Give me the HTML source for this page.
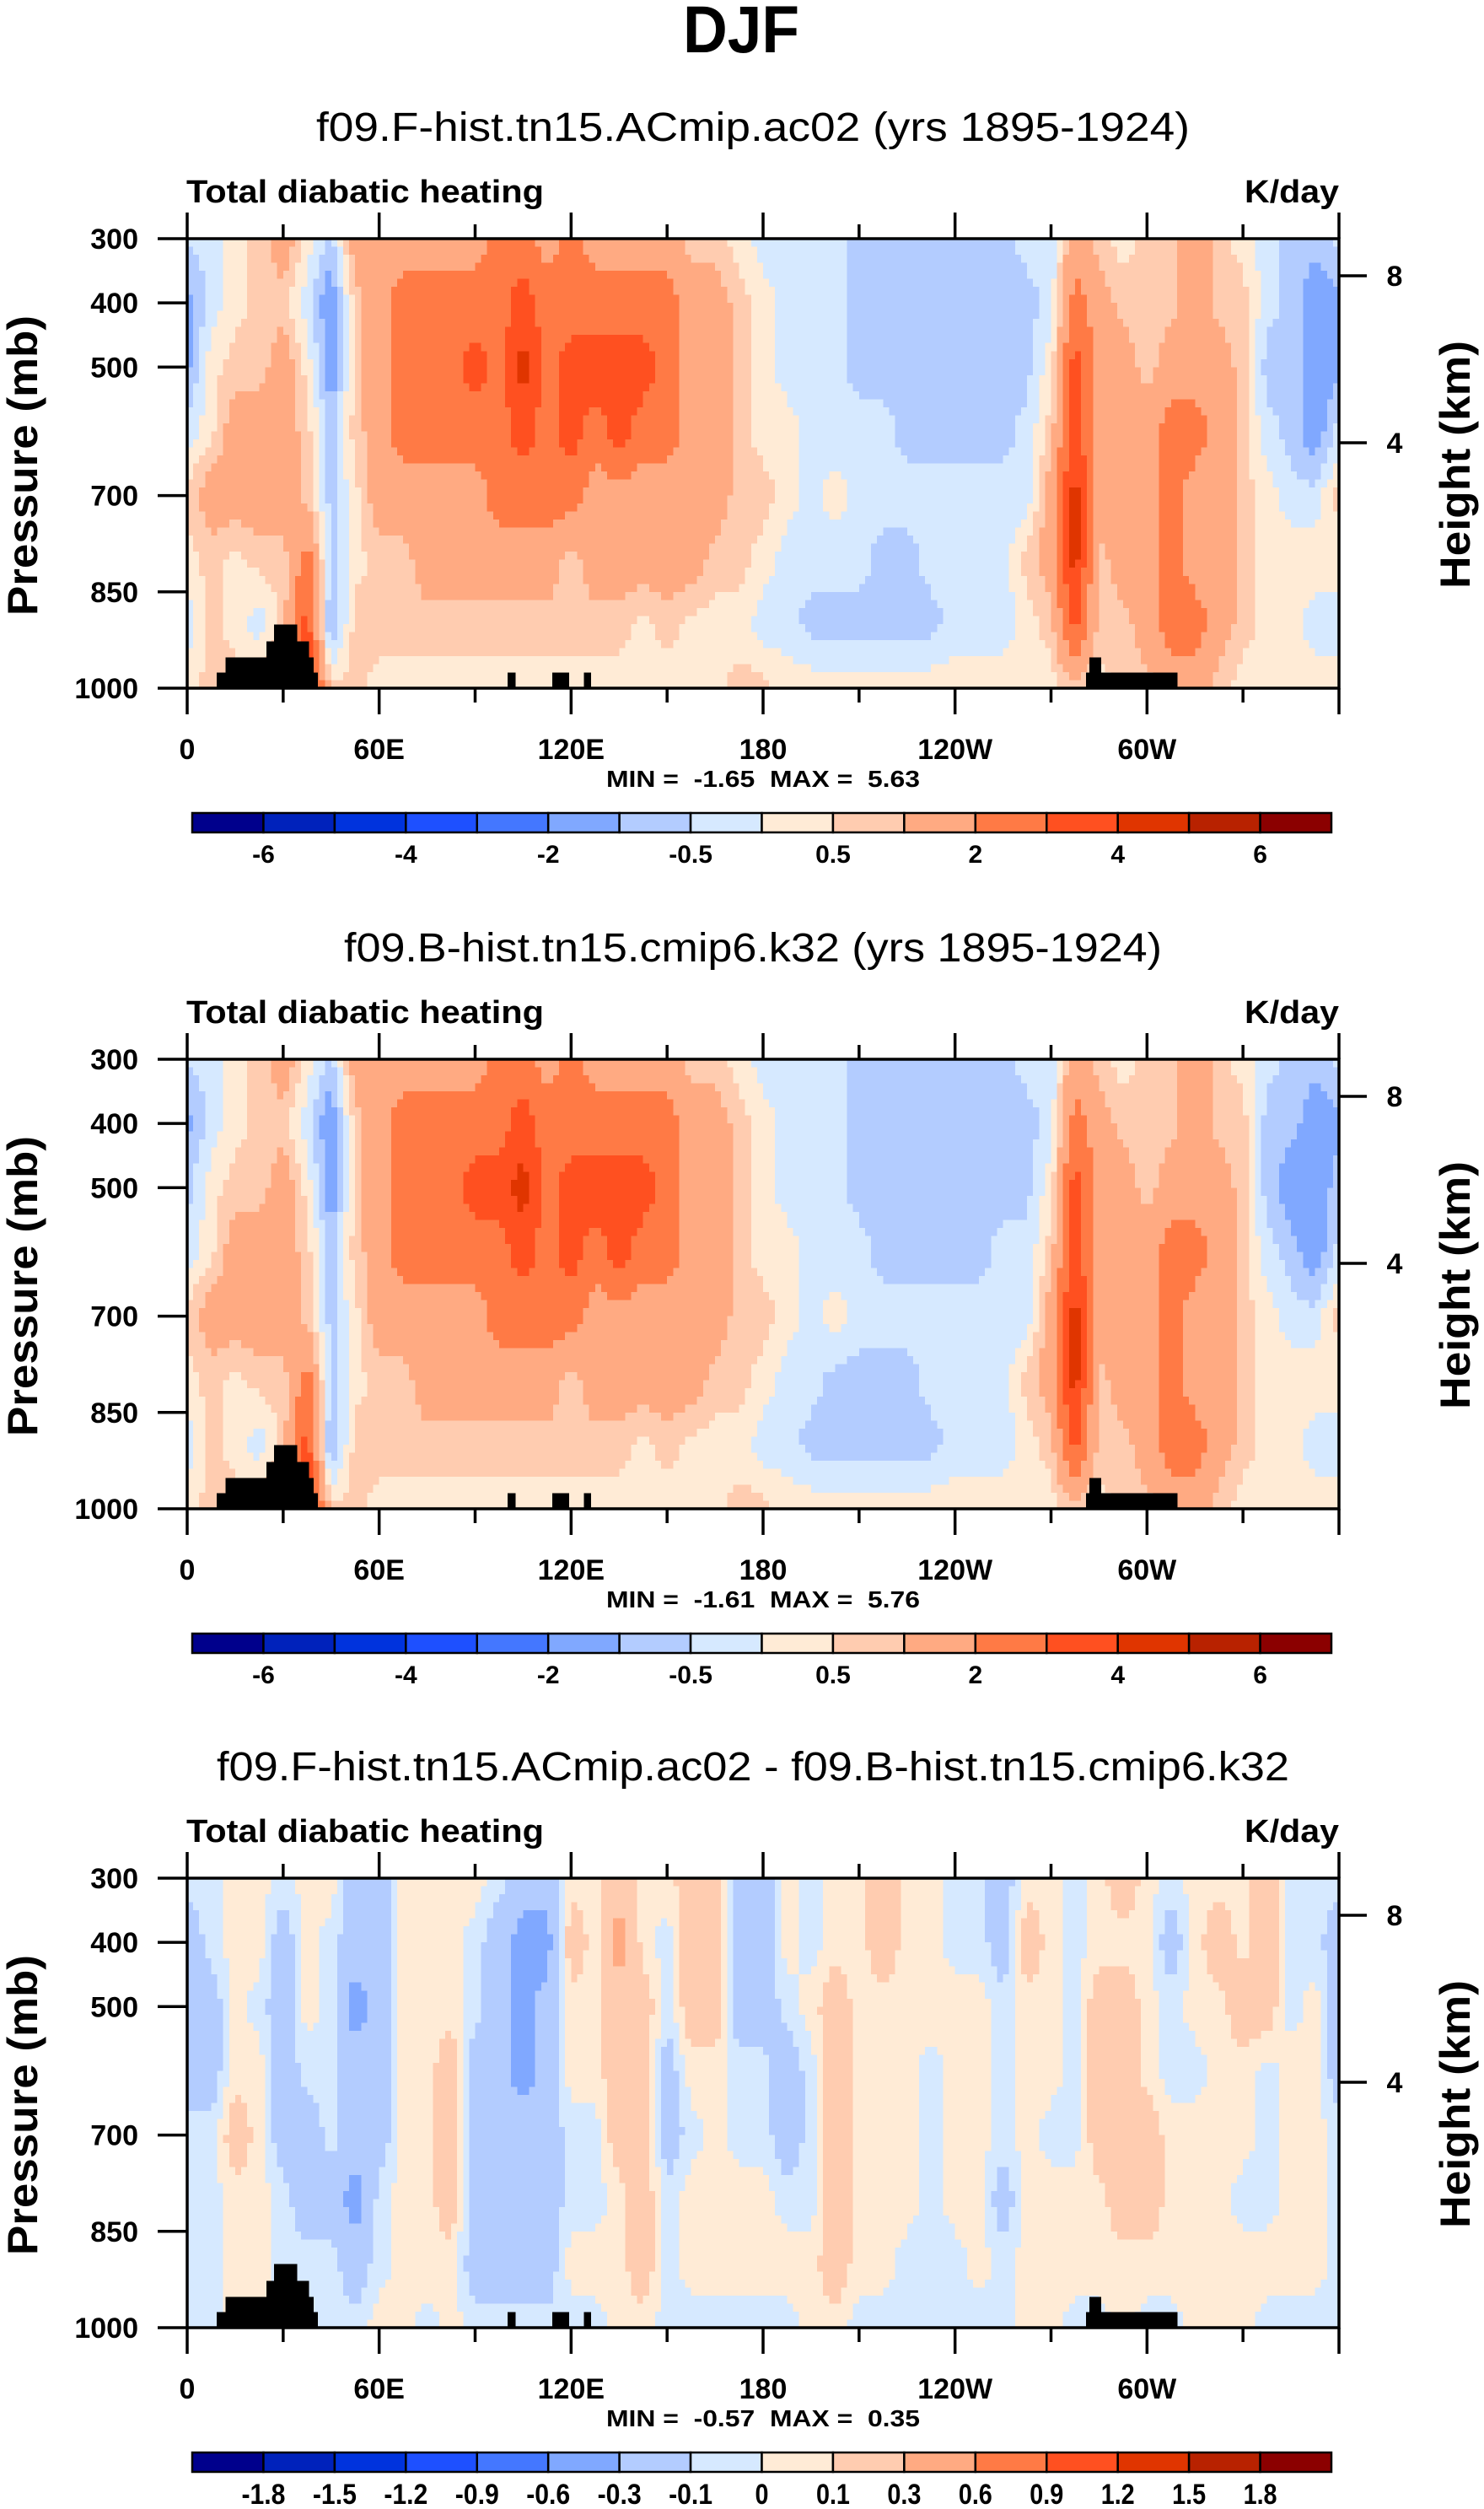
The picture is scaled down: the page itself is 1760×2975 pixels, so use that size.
<!DOCTYPE html>
<html><head><meta charset="utf-8"><style>
html,body{margin:0;padding:0;background:#fff;}
svg{display:block;font-family:"Liberation Sans",sans-serif;}
</style></head><body>
<svg id="fig" width="1760" height="2975" viewBox="0 0 1760 2975" xmlns="http://www.w3.org/2000/svg">
<text x="879" y="62" font-size="79" font-weight="bold" text-anchor="middle" textLength="138" lengthAdjust="spacingAndGlyphs">DJF</text>
</svg>
<script>
// ---- data ----
const levels = [300,400,500,600,700,800,900,1000];
const lons = [0,7.5,15,22.5,30,37.5,45,52.5,60,67.5,75,82.5,90,97.5,105,112.5,120,127.5,135,142.5,150,157.5,165,172.5,180,187.5,195,202.5,210,217.5,225,232.5,240,247.5,255,262.5,270,277.5,285,292.5,300,307.5,315,322.5,330,337.5,345,352.5];
const lonTickLabels = ["0","60E","120E","180","120W","60W"];
const pressureTicks = [300,400,500,700,850,1000];
const heightTicks = [8,4];
const contourLevelsAbs = [-6,-5,-4,-3,-2,-1,-0.5,0,0.5,1,2,3,4,5,6];
const cbarLabelsAbs = ["","-6","","-4","","-2","","-0.5","","0.5","","2","","4","","6"];
const contourLevelsDiff = [-1.8,-1.5,-1.2,-0.9,-0.6,-0.3,-0.1,0,0.1,0.3,0.6,0.9,1.2,1.5,1.8];
const cbarLabelsDiff = ["","-1.8","-1.5","-1.2","-0.9","-0.6","-0.3","-0.1","0","0.1","0.3","0.6","0.9","1.2","1.5","1.8"];
const palette = ["#00008c","#0022bb","#0033dd","#1e50ff","#4477ff","#80a8ff","#b3ccff","#d6e9ff","#ffebd6","#ffccb0","#ffaa82","#ff7a45","#ff5020","#e03500","#b82200","#8b0000"];
// columns (per longitude), values at levels 300..1000
const heatA = [
[-0.4,-1.2,-1.2,-0.3,0.7,0.3,-0.3,0.3],[-0.3,-0.3,0.3,0.3,1.5,0.7,0.7,0.7],[0.3,0.3,0.7,1.5,1.5,0.3,0.3,0.7],[0.7,0.7,0.7,1.5,1.5,0.7,-0.3,0.7],
[1.5,0.7,1.5,1.5,1.5,0.7,0.7,1.5],[0.3,-0.3,0.3,0.7,0.7,2.5,3.5,4.5],[-0.7,-1.5,-1.5,-0.7,-0.7,-0.7,-1.2,0.7],[1.5,0.7,0.7,0.7,0.3,0.3,0.7,0.7],
[1.5,1.5,1.5,1.5,1.5,0.7,0.7,0.3],[1.5,2.5,2.5,2.5,1.5,0.7,0.7,0.3],[1.5,2.5,2.5,2.5,1.5,1.5,0.7,0.3],[1.5,2.5,2.5,2.5,1.5,1.5,0.7,0.3],
[1.5,2.5,3.5,2.5,1.5,1.5,0.7,0.3],[2.5,2.5,2.5,2.5,2.5,1.5,0.7,0.3],[2.5,3.5,4.5,3.5,2.5,1.5,0.7,0.3],[1.5,2.5,2.5,2.5,2.5,1.5,0.7,0.3],
[2.5,2.5,3.5,3.5,2.5,0.7,0.7,0.3],[1.5,2.5,3.5,2.5,1.5,1.5,0.7,0.3],[1.5,2.5,3.5,3.5,1.5,1.5,0.7,0.3],[1.5,2.5,3.5,2.5,1.5,1.5,0.3,0.3],
[1.5,2.5,2.5,2.5,1.5,1.5,0.7,0.3],[0.7,1.5,1.5,1.5,1.5,1.5,0.3,0.3],[0.7,1.5,1.5,1.5,1.5,0.7,0.3,0.3],[0.3,0.7,0.7,0.7,0.7,0.7,0.3,0.7],
[-0.3,0.3,0.3,0.3,0.7,0.3,-0.3,0.7],[-0.3,-0.3,-0.3,0.3,0.3,-0.3,-0.3,0.3],[-0.3,-0.3,-0.3,-0.3,-0.3,-0.3,-0.7,0.3],[-0.3,-0.3,-0.3,-0.3,0.3,-0.3,-0.7,0.3],
[-0.7,-0.7,-0.7,-0.3,-0.3,-0.3,-0.7,0.3],[-0.7,-0.7,-0.7,-0.3,-0.3,-0.7,-0.7,0.3],[-0.7,-0.7,-0.7,-0.7,-0.3,-0.7,-0.7,0.3],[-0.7,-0.7,-0.7,-0.7,-0.3,-0.3,-0.7,0.3],
[-0.7,-0.7,-0.7,-0.7,-0.3,-0.3,-0.3,0.3],[-0.7,-0.7,-0.7,-0.7,-0.3,-0.3,-0.3,0.3],[-0.7,-0.7,-0.7,-0.7,-0.3,-0.3,-0.3,0.3],[-0.3,-0.7,-0.7,-0.3,-0.3,0.7,0.3,0.3],
[-0.3,-0.3,0.3,0.7,1.5,1.5,0.7,0.3],[1.5,2.5,3.5,3.5,4.5,4.5,3.5,0.7],[0.7,1.5,1.5,1.5,1.5,0.7,0.7,0.3],[0.3,0.7,1.5,1.5,1.5,1.5,0.7,0.7],
[0.7,0.7,0.7,1.5,1.5,1.5,1.5,0.7],[0.7,0.7,1.5,2.5,2.5,2.5,2.5,1.5],[1.5,1.5,1.5,2.5,1.5,1.5,2.5,1.5],[0.7,0.7,1.5,1.5,1.5,1.5,1.5,0.7],
[0.3,0.7,0.7,0.7,0.7,0.7,0.7,0.3],[-0.3,-0.3,-0.7,-0.3,0.3,0.3,0.3,0.3],[-0.7,-0.7,-0.7,-0.7,-0.3,0.3,0.3,0.3],[-0.7,-1.5,-1.5,-1.5,-0.3,0.3,-0.3,0.3]];
const heatB = [
[-0.4,-1.2,-0.7,-0.3,0.7,0.3,-0.3,0.3],[-0.3,-0.3,0.3,0.3,1.5,0.7,0.7,0.7],[0.3,0.3,0.7,1.5,1.5,0.3,0.3,0.7],[0.7,0.7,0.7,1.5,1.5,0.7,-0.3,0.7],
[1.5,0.7,1.5,1.5,1.5,0.7,0.7,1.5],[0.3,-0.3,0.3,0.7,0.7,2.5,3.5,4.5],[-0.7,-1.5,-1.5,-0.7,-0.7,-0.7,-1.2,0.7],[1.5,0.7,0.7,0.7,0.3,0.3,0.7,0.7],
[1.5,1.5,1.5,1.5,1.5,0.7,0.7,0.3],[1.5,2.5,2.5,2.5,1.5,0.7,0.7,0.3],[1.5,2.5,2.5,2.5,1.5,1.5,0.7,0.3],[1.5,2.5,2.5,2.5,1.5,1.5,0.7,0.3],
[1.5,2.5,3.5,2.5,1.5,1.5,0.7,0.3],[2.5,2.5,3.5,2.5,2.5,1.5,0.7,0.3],[2.5,3.5,4.5,3.5,2.5,1.5,0.7,0.3],[1.5,2.5,2.5,2.5,2.5,1.5,0.7,0.3],
[2.5,2.5,3.5,3.5,2.5,0.7,0.7,0.3],[1.5,2.5,3.5,2.5,1.5,1.5,0.7,0.3],[1.5,2.5,3.5,3.5,1.5,1.5,0.7,0.3],[1.5,2.5,3.5,2.5,1.5,1.5,0.3,0.3],
[1.5,2.5,2.5,2.5,1.5,1.5,0.7,0.3],[0.7,1.5,1.5,1.5,1.5,1.5,0.3,0.3],[0.7,1.5,1.5,1.5,1.5,0.7,0.3,0.3],[0.3,0.7,0.7,0.7,0.7,0.7,0.3,0.7],
[-0.3,0.3,0.3,0.3,0.7,0.3,-0.3,0.7],[-0.3,-0.3,-0.3,0.3,0.3,-0.3,-0.3,0.3],[-0.3,-0.3,-0.3,-0.3,-0.3,-0.3,-0.7,0.3],[-0.3,-0.3,-0.3,-0.3,0.3,-0.7,-0.7,0.3],
[-0.7,-0.7,-0.7,-0.3,-0.3,-0.7,-0.7,0.3],[-0.7,-0.7,-0.7,-0.7,-0.3,-0.7,-0.7,0.3],[-0.7,-0.7,-0.7,-0.7,-0.3,-0.7,-0.7,0.3],[-0.7,-0.7,-0.7,-0.7,-0.3,-0.3,-0.7,0.3],
[-0.7,-0.7,-0.7,-0.7,-0.3,-0.3,-0.3,0.3],[-0.7,-0.7,-0.7,-0.7,-0.3,-0.3,-0.3,0.3],[-0.7,-0.7,-0.7,-0.3,-0.3,-0.3,-0.3,0.3],[-0.3,-0.7,-0.7,-0.3,-0.3,0.7,0.3,0.3],
[-0.3,-0.3,0.3,0.7,1.5,1.5,0.7,0.3],[1.5,2.5,3.5,3.5,4.5,4.5,3.5,0.7],[0.7,1.5,1.5,1.5,1.5,0.7,0.7,0.3],[0.3,0.7,1.5,1.5,1.5,1.5,0.7,0.7],
[0.7,0.7,0.7,1.5,1.5,1.5,1.5,0.7],[0.7,0.7,1.5,2.5,2.5,2.5,2.5,1.5],[1.5,1.5,1.5,2.5,1.5,1.5,2.5,1.5],[0.7,0.7,1.5,1.5,1.5,1.5,1.5,0.7],
[0.3,0.7,0.7,0.7,0.7,0.7,0.7,0.3],[-0.3,-0.7,-0.7,-0.3,0.3,0.3,0.3,0.3],[-0.7,-0.7,-1.5,-0.7,-0.3,0.3,0.3,0.3],[-0.7,-1.5,-1.5,-1.5,-0.3,0.3,-0.3,0.3]];
const heatDiff = [
[-0.05,-0.2,-0.2,-0.2,-0.05,-0.05,-0.05,-0.05],[-0.05,-0.05,-0.2,-0.2,-0.05,-0.05,-0.05,-0.05],[0.05,0.05,0.05,0.05,0.2,0.05,0.05,0.05],[0.05,0.05,-0.05,0.05,0.05,0.05,0.05,0.05],
[-0.05,-0.2,-0.2,-0.2,-0.2,-0.05,-0.05,-0.05],[0.05,0.05,0.05,-0.05,-0.2,-0.2,-0.05,-0.05],[0.05,-0.05,-0.05,-0.05,-0.05,-0.2,-0.05,-0.05],[-0.2,-0.2,-0.4,-0.2,-0.2,-0.4,-0.2,-0.05],
[-0.2,-0.2,-0.2,-0.2,-0.2,-0.05,-0.05,0.05],[0.05,0.05,0.05,0.05,0.05,0.05,0.05,0.05],[0.05,0.05,0.05,0.05,0.05,0.05,0.05,-0.05],[0.05,0.05,0.05,0.2,0.2,0.2,0.05,0.05],
[0.05,-0.05,-0.05,-0.2,-0.2,-0.2,-0.2,-0.05],[-0.05,-0.2,-0.2,-0.2,-0.2,-0.2,-0.2,-0.05],[-0.2,-0.4,-0.4,-0.4,-0.2,-0.2,-0.2,-0.05],[-0.2,-0.4,-0.2,-0.2,-0.2,-0.2,-0.2,-0.05],
[0.05,0.2,0.05,0.05,-0.05,-0.05,0.05,-0.05],[0.05,0.05,0.05,0.05,-0.05,-0.05,0.05,-0.05],[0.2,0.4,0.2,0.2,0.2,0.05,0.05,0.05],[0.05,0.05,0.2,0.2,0.2,0.2,0.2,0.05],
[0.05,-0.05,-0.05,-0.2,-0.2,-0.05,-0.05,-0.05],[0.2,0.2,0.2,0.05,-0.05,0.05,0.05,-0.05],[0.2,0.2,0.2,0.05,0.05,0.05,0.05,-0.05],[-0.2,-0.2,-0.2,-0.05,-0.05,0.05,0.05,-0.05],
[-0.2,-0.2,-0.2,-0.05,-0.05,0.05,0.05,-0.05],[0.05,0.05,-0.05,-0.2,-0.2,-0.05,0.05,-0.05],[-0.05,-0.05,0.05,-0.05,-0.05,-0.05,0.05,0.05],[0.05,0.05,0.2,0.2,0.2,0.2,0.2,0.05],
[0.05,0.05,0.05,0.05,0.05,0.05,0.05,-0.05],[0.2,0.2,0.05,0.05,0.05,0.05,0.05,-0.05],[0.05,0.05,0.05,0.05,0.05,0.05,-0.05,-0.05],[0.05,0.05,0.05,-0.05,-0.05,-0.05,-0.05,-0.05],
[-0.05,-0.05,0.05,0.05,0.05,0.05,-0.05,-0.05],[-0.05,-0.05,0.05,0.05,0.05,0.05,0.05,-0.05],[-0.2,-0.2,-0.05,-0.05,-0.05,-0.2,-0.05,-0.05],[0.05,0.2,0.05,0.05,0.05,0.05,0.05,0.05],
[0.05,0.05,0.05,0.05,-0.05,0.05,0.05,0.05],[-0.05,-0.05,-0.05,-0.05,-0.05,0.05,0.05,-0.05],[0.05,0.05,0.2,0.2,0.2,0.05,0.05,-0.05],[0.2,0.05,0.2,0.2,0.2,0.2,0.05,0.05],
[0.05,0.05,0.05,0.05,0.2,0.2,0.05,-0.05],[-0.05,-0.2,-0.05,-0.05,0.05,0.05,0.05,-0.05],[0.05,0.05,0.05,-0.05,0.05,0.05,0.05,0.05],[0.05,0.2,0.05,0.05,0.05,0.05,0.05,0.05],
[0.05,0.05,0.2,0.05,0.05,-0.05,0.05,0.05],[0.2,0.2,0.2,-0.05,-0.05,-0.05,0.05,-0.05],[-0.05,-0.05,-0.05,0.05,0.05,0.05,0.05,-0.05],[-0.05,-0.05,0.05,0.05,0.05,0.05,0.05,-0.05]];
// terrain blocks: [lonStart, lonEnd, topPressure]
const terrainLonStart = [9.2,12,24.8,27.1,100.1,114.1,124,281,282];
const terrainLonEnd = [40.9,39.5,38.1,34.4,102.6,119.4,126.3,309.5,285.7];
const terrainTop = [976,952,927,901,976,976,976,976,952];

const panels = [
 {off:0, data:heatA, lv:contourLevelsAbs, lab:cbarLabelsAbs, title:"f09.F-hist.tn15.ACmip.ac02 (yrs 1895-1924)", tl:1036, mn:"-1.65", mx:"5.63", diff:false},
 {off:973, data:heatB, lv:contourLevelsAbs, lab:cbarLabelsAbs, title:"f09.B-hist.tn15.cmip6.k32 (yrs 1895-1924)", tl:970, mn:"-1.61", mx:"5.76", diff:false},
 {off:1944, data:heatDiff, lv:contourLevelsDiff, lab:cbarLabelsDiff, title:"f09.F-hist.tn15.ACmip.ac02 - f09.B-hist.tn15.cmip6.k32", tl:1272, mn:"-0.57", mx:"0.35", diff:true}
];

const NS="http://www.w3.org/2000/svg";
const svg=document.getElementById('fig');
function mk(tag,attrs,parent,txt){const e=document.createElementNS(NS,tag);for(const k in attrs)e.setAttribute(k,attrs[k]);if(txt!==undefined)e.textContent=txt;(parent||svg).appendChild(e);return e;}
const X0=222,X1=1588,H=533;
function xOf(lon){return X0+(lon/360)*(X1-X0);}
function colorOf(v,lv){let i=0;while(i<lv.length&&v>=lv[i])i++;return palette[i];}
// bilinear sampling of the gridded field (rendering only; data comes from the arrays)
function sample(data,lon,pr){
  const nc=data.length;
  let fi=lon/7.5; let i0=Math.floor(fi); const tx=fi-i0;
  const i1=((i0+1)%nc+nc)%nc; i0=((i0%nc)+nc)%nc;
  let fj=(pr-300)/100; fj=Math.max(0,Math.min(7,fj)); let j0=Math.min(6,Math.floor(fj)); const ty=fj-j0; const j1=j0+1;
  const a=data[i0][j0]*(1-tx)+data[i1][j0]*tx;
  const b=data[i0][j1]*(1-tx)+data[i1][j1]*tx;
  return a*(1-ty)+b*ty;
}

panels.forEach((p,pi)=>{
  const top=283+p.off, bot=top+H;
  const yOf=pr=>top+(pr-300)/700*H;
  const g=mk('g',{});
  
  
  const t=mk('text',{x:893,y:167+p.off,'font-size':48,'text-anchor':'middle',textLength:p.tl,lengthAdjust:'spacingAndGlyphs'},g,p.title);
  
  
  const lt=mk('text',{x:221,y:240+p.off,'font-size':38,'font-weight':'bold',textLength:424,lengthAdjust:'spacingAndGlyphs'},g,'Total diabatic heating');
  
  
  const ut=mk('text',{x:1588,y:240+p.off,'font-size':38,'font-weight':'bold','text-anchor':'end',textLength:112,lengthAdjust:'spacingAndGlyphs'},g,'K/day');
  
  
  const cp=mk('clipPath',{id:'clip'+pi},g);mk('rect',{x:X0,y:top,width:X1-X0,height:H},cp);
  const cells=mk('g',{'clip-path':'url(#clip'+pi+')','shape-rendering':'crispEdges'},g);
  
  
  const dLon=1.875, dP=12.5;
  for(let lon=0;lon<360;lon+=dLon){
    const xa=xOf(lon), xb=xOf(lon+dLon);
    // run-length merge vertically
    let runStart=300, runCol=null;
    for(let pr=300;pr<=1000+0.001;pr+=dP){
      const c = pr<1000 ? colorOf(sample(p.data,lon+dLon/2,pr+dP/2),p.lv) : null;
      if(c!==runCol){
        if(runCol!==null){
          const r=mk('rect',{x:xa.toFixed(2),y:yOf(runStart).toFixed(2),width:(xb-xa+0.8).toFixed(2),height:(yOf(pr)-yOf(runStart)+0.8).toFixed(2),fill:runCol},cells);
          
          
        }
        runStart=pr; runCol=c;
      }
    }
  }
  terrainLonStart.forEach((ls,k)=>{
    const r=mk('rect',{x:xOf(ls),y:yOf(terrainTop[k]),width:xOf(terrainLonEnd[k])-xOf(ls),height:bot-yOf(terrainTop[k]),fill:'#000'},cells);
    
    
  });
  const fr=mk('rect',{x:X0,y:top,width:X1-X0,height:H,fill:'none',stroke:'#000','stroke-width':3.5},g);
  
  
  for(let lon=0;lon<=360;lon+=30){
    const x=xOf(lon), major=lon%60===0;
    const L=major?31:17;
    mk('line',{x1:x,y1:top,x2:x,y2:top-L,stroke:'#000','stroke-width':3.5},g);
    mk('line',{x1:x,y1:bot,x2:x,y2:bot+L,stroke:'#000','stroke-width':3.5},g);
  }
  lonTickLabels.forEach((s,k)=>{
    const tx=mk('text',{x:xOf(k*60),y:bot+84,'font-size':34,'font-weight':'bold','text-anchor':'middle'},g,s);
    
    
  });
  pressureTicks.forEach(pr=>{
    const y=yOf(pr);
    mk('line',{x1:X0,y1:y,x2:X0-35,y2:y,stroke:'#000','stroke-width':3.5},g);
    const tx=mk('text',{x:164,y:y+12,'font-size':34,'font-weight':'bold','text-anchor':'end'},g,String(pr));
    
    
  });
  heightTicks.forEach(h=>{
    const y=top+(h===8?44:242);
    mk('line',{x1:X1,y1:y,x2:X1+33,y2:y,stroke:'#000','stroke-width':3.5},g);
    const tx=mk('text',{x:1654,y:y+12,'font-size':34,'font-weight':'bold','text-anchor':'middle'},g,String(h));
    
    
  });
  const yl=mk('text',{x:0,y:0,'font-size':50,'font-weight':'bold','text-anchor':'middle',transform:`translate(44,${top+269}) rotate(-90)`,textLength:356,lengthAdjust:'spacingAndGlyphs'},g,'Pressure (mb)');
  
  
  const hl=mk('text',{x:0,y:0,'font-size':50,'font-weight':'bold','text-anchor':'middle',transform:`translate(1743,${top+268}) rotate(-90)`,textLength:294,lengthAdjust:'spacingAndGlyphs'},g,'Height (km)');
  
  
  const mm=mk('text',{x:905,y:bot+117,'font-size':28,'font-weight':'bold','text-anchor':'middle',style:'white-space:pre',textLength:372,lengthAdjust:'spacingAndGlyphs'},g,'MIN =  '+p.mn+'  MAX =  '+p.mx);
  
  
  const cb=mk('g',{},g);
  
  
  const cx0=228,cx1=1579,cy=bot+148,ch=23,bw=(cx1-cx0)/16;
  palette.forEach((c,k)=>{
    const r=mk('rect',{x:cx0+k*bw,y:cy,width:bw,height:ch,fill:c,stroke:'#000','stroke-width':2.5},cb);
    
    
  });
  p.lab.forEach((s,k)=>{
    if(!s)return;
    const tx=mk('text',{x:cx0+k*bw,y:cy+(p.diff?61:59),'font-size':p.diff?34:30,'font-weight':'bold','text-anchor':'middle'},cb,s);
    if(p.diff){tx.setAttribute('textLength',s.length*12+4);tx.setAttribute('lengthAdjust','spacingAndGlyphs');}
    
    
  });
});
</script>
</body></html>
